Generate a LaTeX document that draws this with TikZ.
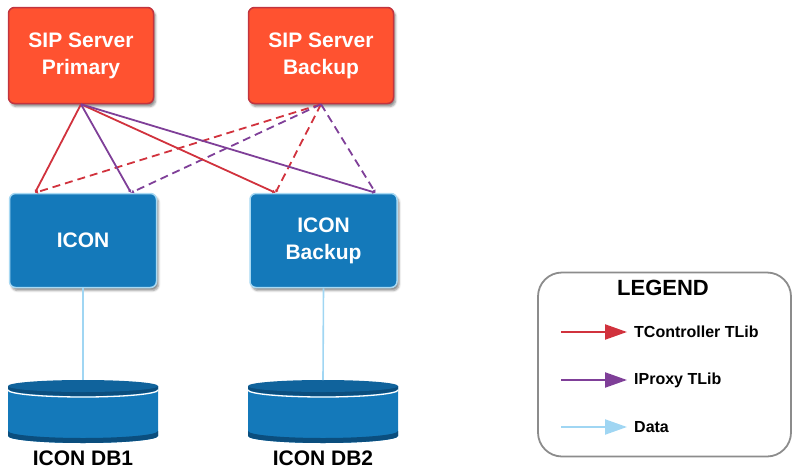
\documentclass[tikz,border=0pt]{standalone}
\usepackage{fontspec}
\setmainfont{Liberation Sans}
\usetikzlibrary{shadows,shadows.blur}
\usetikzlibrary{arrows.meta,shapes}
\usetikzlibrary{calc}
\definecolor{sipred}{HTML}{FF5230}
\definecolor{sipborder}{HTML}{C2343E}
\definecolor{iconblue}{HTML}{1479BA}
\definecolor{iconborder}{HTML}{A8D9F3}
\definecolor{dbtop}{HTML}{10639C}
\definecolor{dbrim}{HTML}{0B4E7E}
\definecolor{tctrl}{HTML}{D1323D}
\definecolor{iproxy}{HTML}{7F3F98}
\definecolor{datablue}{HTML}{A0D6F3}
\definecolor{legendgray}{HTML}{8C8C8C}
\tikzstyle{server}=[rectangle,rounded corners=6pt,fill=sipred,draw=sipborder,line width=1.5pt,minimum width=145pt,minimum height=96pt,text=white,font=\fontsize{21}{27}\selectfont\bfseries,align=center,blur shadow={shadow xshift=2pt,shadow yshift=-3pt,shadow opacity=45}]
\tikzstyle{iconbox}=[server,fill=iconblue,draw=iconborder,minimum width=147pt,minimum height=94pt]
\tikzstyle{tctrledge} = [draw,line width=1.8pt,tctrl,-{Latex[length=3pt,width=4pt]}]
\tikzstyle{iproxyedge} = [tctrledge,iproxy]
\tikzstyle{backup} = [dash pattern=on 8pt off 5pt]
\tikzstyle{dataedge} = [draw,line width=1.6pt,datablue]
\tikzstyle{legarrow} = [draw,line width=2.2pt,shorten >=5pt,-{Triangle[length=22pt,width=15pt]}]
\tikzstyle{legtext} = [anchor=west,inner sep=2pt,font=\fontsize{16}{19}\selectfont\bfseries]
\tikzstyle{dblabel} = [font=\fontsize{21}{25}\selectfont\bfseries]

\begin{document}
\begin{tikzpicture}[x=1pt,y=-1pt]

	\useasboundingbox (0,0) rectangle (793,469);

	\def\rx{75pt};
	\def\ry{7pt};

%servers
	\foreach \pos/\name/\label in {{(81,55.5)/sipP/{SIP Server\\Primary}}, {(321,55.5)/sipB/{SIP Server\\Backup}}}
		\node[server] (\name) at \pos {\label};

%icon
	\foreach \pos/\name/\label in {{(83,240.5)/icon/{ICON}}, {(323.5,240.5)/iconB/{ICON\\Backup}}}
		\node[iconbox] (\name) at \pos {\label};

%databases
	\foreach \cx/\name/\label in {83/db1/{ICON DB1}, 323/db2/{ICON DB2}}
	{
		\fill[iconblue] (\cx-75,386) -- (\cx-75,436) arc[start angle=180, end angle=360, x radius=\rx, y radius=\ry] -- (\cx+75,386) -- cycle;
		% bottom rim
		\fill[dbrim] (\cx-75,431) arc[start angle=180, end angle=360, x radius=\rx, y radius=\ry] -- (\cx+75,436) arc[start angle=0, end angle=-180, x radius=\rx, y radius=\ry] -- cycle;
		% top
		\fill[dbrim] (\cx-75,386) -- (\cx-75,389) arc[start angle=180, end angle=360, x radius=\rx, y radius=\ry] -- (\cx+75,386) -- cycle;
		\fill[dbtop] (\cx,386) ellipse[x radius=\rx, y radius=6pt];
		\draw[white,line width=1.3pt] (\cx-75,390) arc[start angle=180, end angle=360, x radius=\rx, y radius=\ry];
		\coordinate (\name) at (\cx,380);
		\node[dblabel] (\name-lbl) at (\cx,458) {\label};
	}

	% Connect servers with icon
	\foreach \source/\dest/\dx/\kind in {sipB/icon/-48/tctrledge, sipB/iconB/-48/tctrledge, sipB/icon/48/iproxyedge, sipB/iconB/52/iproxyedge}
		\path[\kind,backup] (\source.south) -- ([xshift=\dx pt]\dest.north);
	\foreach \source/\dest/\dx/\kind in {sipP/icon/-48/tctrledge, sipP/iconB/-48/tctrledge, sipP/icon/48/iproxyedge, sipP/iconB/52/iproxyedge}
		\path[\kind] (\source.south) -- ([xshift=\dx pt]\dest.north);

	%data
	\foreach \source/\dest in {icon/db1, iconB/db2}
		\path[dataedge] (\source.south) -- (\dest);

%Legend
	\node[draw=legendgray,line width=1.8pt,rounded corners=24pt,minimum width=253pt,minimum height=184pt] (legend) at (664.5,364.5) {};
	\node[font=\fontsize{22}{26}\selectfont\bfseries] (legtitle) at (663,288) {LEGEND};

	\foreach \y/\name/\col/\label in {332/lgT/tctrl/{TController TLib}, 380/lgP/iproxy/{IProxy TLib}, 427/lgD/datablue/{Data}}
	{
		\coordinate (\name-s) at (561,\y);
		\node[legtext] (\name) at (632,\y) {\label};
		\path[legarrow,\col] (\name-s) -- (\name.west);
	}

\end{tikzpicture}
\end{document}
